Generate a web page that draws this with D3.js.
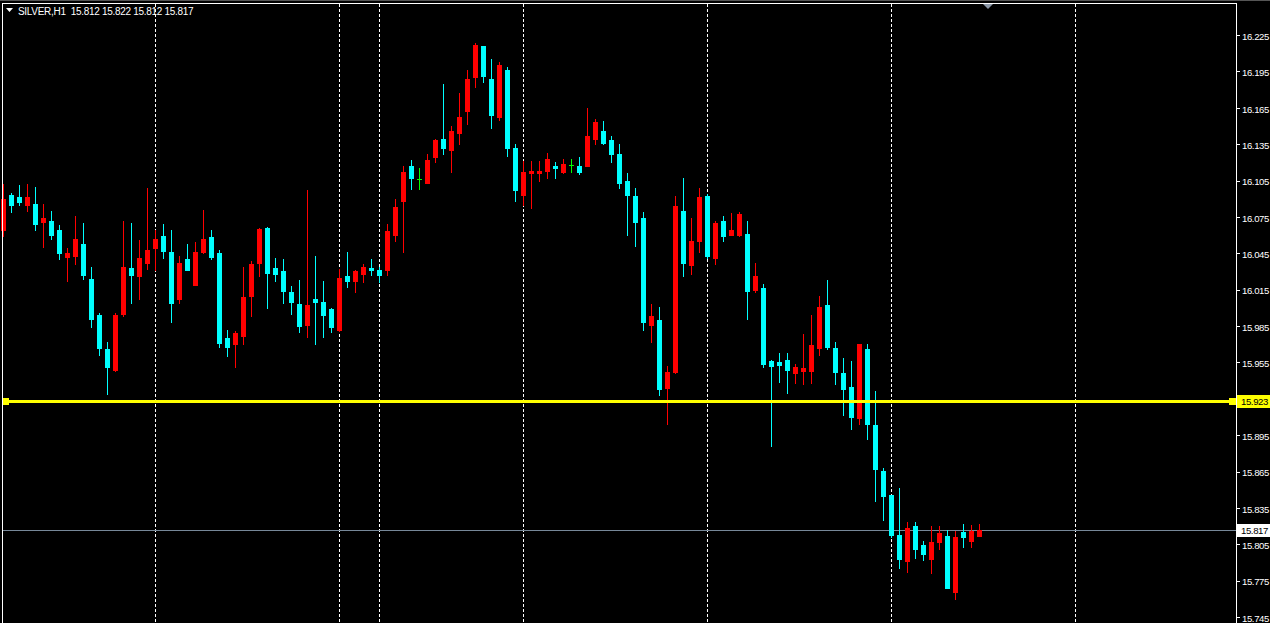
<!DOCTYPE html>
<html><head><meta charset="utf-8">
<script src="https://cdn.jsdelivr.net/npm/d3@7"></script>
<style>html,body{margin:0;padding:0;background:#000;overflow:hidden}</style>
</head><body><svg id="c" width="1270" height="623"></svg>
<script>
// ---- data ----
const symbolTitle = "SILVER,H1";
const lastOHLC = ["15.812", "15.822", "15.812", "15.817"];
const open = [16.064,16.093,16.091,16.085,16.086,16.071,16.072,16.064,16.042,16.043,16.053,16.024,15.994,15.966,15.949,15.995,16.033,16.026,16.037,16.049,16.059,16.046,16.007,16.040,16.019,16.046,16.058,16.045,15.975,15.970,15.977,16.010,16.037,16.066,16.033,16.030,16.013,16.003,15.986,16.007,16.005,15.999,15.982,16.026,16.022,16.028,16.033,16.031,16.031,16.060,16.088,16.117,16.106,16.103,16.124,16.139,16.130,16.144,16.162,16.190,16.216,16.189,16.157,16.196,16.132,16.093,16.111,16.111,16.113,16.117,16.112,16.118,16.117,16.117,16.139,16.146,16.138,16.127,16.105,16.092,16.074,15.986,15.990,15.934,15.947,16.080,16.035,16.055,16.092,16.041,16.072,16.060,16.060,16.061,16.015,16.016,15.956,15.955,15.957,15.946,15.948,15.948,15.967,16.002,15.967,15.946,15.935,15.909,15.966,15.903,15.865,15.846,15.813,15.791,15.820,15.804,15.793,15.807,15.812,15.766,15.815,15.808,15.812];
const high = [16.102,16.095,16.101,16.102,16.100,16.086,16.080,16.068,16.049,16.076,16.070,16.034,15.996,15.972,15.996,16.072,16.070,16.056,16.099,16.064,16.069,16.064,16.043,16.053,16.054,16.081,16.064,16.048,15.982,15.981,16.034,16.039,16.066,16.067,16.041,16.040,16.018,16.023,16.097,16.043,16.022,16.000,16.032,16.046,16.031,16.036,16.040,16.034,16.069,16.090,16.117,16.122,16.115,16.127,16.139,16.185,16.150,16.177,16.196,16.218,16.216,16.205,16.203,16.199,16.135,16.121,16.121,16.121,16.128,16.120,16.123,16.123,16.124,16.165,16.156,16.154,16.142,16.135,16.111,16.099,16.079,16.003,16.001,15.952,16.092,16.107,16.074,16.099,16.094,16.072,16.076,16.078,16.079,16.072,16.037,16.020,15.957,15.963,15.963,15.954,15.978,15.994,16.010,16.023,15.972,15.959,15.956,15.970,15.970,15.931,15.868,15.846,15.851,15.823,15.823,15.808,15.820,15.820,15.817,15.816,15.822,15.821,15.822];
const low = [16.059,16.079,16.085,16.080,16.064,16.050,16.057,16.040,16.022,16.036,16.024,15.984,15.961,15.929,15.948,15.993,16.004,16.007,16.032,16.031,16.041,15.988,16.004,16.031,16.019,16.045,16.040,15.968,15.960,15.951,15.970,15.993,16.026,16.000,16.022,16.004,15.995,15.980,15.976,15.970,15.976,15.980,15.981,16.017,16.013,16.021,16.027,16.021,16.027,16.055,16.046,16.098,16.098,16.103,16.120,16.127,16.112,16.135,16.152,16.182,16.186,16.148,16.155,16.125,16.088,16.085,16.082,16.105,16.107,16.107,16.111,16.112,16.110,16.117,16.135,16.135,16.120,16.099,16.060,16.051,15.982,15.972,15.928,15.904,15.946,16.026,16.028,16.046,16.041,16.036,16.055,16.060,16.059,15.991,16.013,15.951,15.886,15.939,15.930,15.938,15.937,15.938,15.961,15.966,15.937,15.912,15.900,15.904,15.892,15.841,15.825,15.811,15.785,15.782,15.794,15.792,15.781,15.801,15.769,15.760,15.803,15.803,15.812];
const close = [16.090,16.085,16.087,16.091,16.069,16.074,16.060,16.045,16.045,16.057,16.027,15.991,15.967,15.951,15.994,16.034,16.027,16.041,16.048,16.057,16.047,16.004,16.037,16.031,16.046,16.057,16.042,15.971,15.968,15.979,16.009,16.036,16.065,16.029,16.028,16.014,16.005,15.985,16.002,16.005,15.994,15.984,16.025,16.022,16.030,16.034,16.031,16.027,16.063,16.083,16.112,16.107,16.106,16.122,16.138,16.132,16.146,16.157,16.189,16.217,16.191,16.159,16.200,16.132,16.097,16.112,16.113,16.113,16.123,16.115,16.119,16.118,16.112,16.142,16.153,16.136,16.127,16.103,16.093,16.071,15.988,15.993,15.933,15.947,16.084,16.037,16.055,16.091,16.043,16.070,16.059,16.064,16.077,16.014,16.026,15.954,15.952,15.953,15.949,15.951,15.950,15.969,16.001,15.968,15.947,15.933,15.910,15.970,15.904,15.867,15.845,15.813,15.793,15.818,15.801,15.797,15.807,15.814,15.769,15.811,15.811,15.816,15.817];
const separators = [19, 42, 47, 65, 88, 111, 134];   // bar indices of period separators
const priceTicks = [16.225,16.195,16.165,16.135,16.105,16.075,16.045,16.015,15.985,15.955,15.895,15.865,15.835,15.805,15.775,15.745];
const levelLine = 15.923;
const bidPrice = 15.817;

// ---- drawing ----
const W = 1270, H = 623;
const plotL = 2, plotR = 1236, plotT = 3;
const svg = d3.select("#c").attr("shape-rendering", "crispEdges");
svg.append("rect").attr("width", W).attr("height", H).attr("fill", "#000");

const x = d3.scaleLinear().domain([0, 154]).range([3.5, 1235.5]);
const y = d3.scaleLinear().domain([15.745, 16.225]).range([617, 35]);
const py = v => Math.round(y(v));

const fontFam = "'Liberation Sans', Arial, sans-serif";
const lblSize = "9.6px", lblSpacing = "-0.4px";

// period separators
svg.append("g").selectAll("line").data(separators).join("line")
  .attr("x1", d => x(d)).attr("x2", d => x(d))
  .attr("y1", plotT + 1).attr("y2", H)
  .attr("stroke", "#fff").attr("stroke-width", 1).attr("stroke-dasharray", "3,2");

// bid line
svg.append("line").attr("x1", plotL).attr("x2", plotR).attr("y1", py(bidPrice) + 0.5).attr("y2", py(bidPrice) + 0.5)
  .attr("stroke", "#778899").attr("stroke-width", 1);

// candles
const bars = d3.range(open.length).map(i => ({i, o: open[i], h: high[i], l: low[i], c: close[i]}));
const col = d => d.c > d.o ? "#ff0000" : d.c < d.o ? "#00ffff" : "#00ff00";
const g = svg.append("g");
g.selectAll("rect.wick").data(bars).join("rect").attr("class", "wick")
  .attr("x", d => x(d.i) - 0.5).attr("width", 1)
  .attr("y", d => py(d.h)).attr("height", d => Math.max(1, py(d.l) - py(d.h) + 1))
  .attr("fill", col);
g.selectAll("rect.body").data(bars).join("rect").attr("class", "body")
  .attr("x", d => x(d.i) - 2.5).attr("width", 5)
  .attr("y", d => py(Math.max(d.o, d.c)))
  .attr("height", d => Math.max(1, py(Math.min(d.o, d.c)) - py(Math.max(d.o, d.c)) + (d.o === d.c ? 0 : 1)))
  .attr("fill", col);

// horizontal level line (yellow)
const ly = py(levelLine);
svg.append("line").attr("x1", plotL).attr("x2", plotR).attr("y1", ly + 0.5).attr("y2", ly + 0.5)
  .attr("stroke", "#ffff00").attr("stroke-width", 3);
svg.append("rect").attr("x", plotL).attr("y", ly - 3).attr("width", 7).attr("height", 7).attr("fill", "#ffff00");
svg.append("rect").attr("x", plotR - 7).attr("y", ly - 3).attr("width", 7).attr("height", 7).attr("fill", "#ffff00");

// frame
svg.append("line").attr("x1", plotL + 0.5).attr("x2", plotL + 0.5).attr("y1", plotT).attr("y2", H).attr("stroke", "#fff");
svg.append("line").attr("x1", plotR + 0.5).attr("x2", plotR + 0.5).attr("y1", plotT).attr("y2", H).attr("stroke", "#fff");
svg.append("line").attr("x1", plotL).attr("x2", plotR + 1).attr("y1", plotT + 0.5).attr("y2", plotT + 0.5).attr("stroke", "#fff");
svg.append("line").attr("x1", 0).attr("x2", W).attr("y1", 0.5).attr("y2", 0.5).attr("stroke", "#555");

// chart shift marker
svg.append("path").attr("d", "M983,4 L993,4 L988,9 Z").attr("fill", "#8a96a6").attr("shape-rendering", "auto");

// right price axis
const axis = d3.axisRight(y).tickValues(priceTicks).tickSize(3).tickPadding(2).tickFormat(d3.format(".3f"));
const ag = svg.append("g").attr("transform", `translate(${plotR + 1},0)`).call(axis);
ag.select(".domain").remove();
ag.selectAll(".tick line").attr("stroke", "#fff");
ag.selectAll(".tick text").attr("fill", "#fff").attr("font-family", fontFam).attr("font-size", lblSize)
  .attr("letter-spacing", lblSpacing).attr("dy", "0.45em").attr("shape-rendering", "auto");

// price labels
function priceLabel(v, bg, fg) {
  const yy = py(v);
  svg.append("rect").attr("x", plotR + 1).attr("y", yy - 6).attr("width", W - plotR - 1).attr("height", 13).attr("fill", bg);
  svg.append("text").attr("x", plotR + 5).attr("y", yy + 4).attr("fill", fg)
    .attr("font-family", fontFam).attr("font-size", lblSize).attr("letter-spacing", lblSpacing)
    .text(v.toFixed(3));
}
priceLabel(levelLine, "#ffff00", "#000");
priceLabel(bidPrice, "#ffffff", "#000");

// header
svg.append("path").attr("d", "M6,8 L13,8 L9.5,12 Z").attr("fill", "#fff").attr("shape-rendering", "auto");
svg.append("text").attr("x", 18).attr("y", 15).attr("fill", "#fff")
  .attr("font-family", fontFam).attr("font-size", "10px").attr("letter-spacing", "-0.3px")
  .attr("xml:space", "preserve").style("white-space", "pre")
  .text(symbolTitle + "  " + lastOHLC.join(" "));
</script></body></html>
